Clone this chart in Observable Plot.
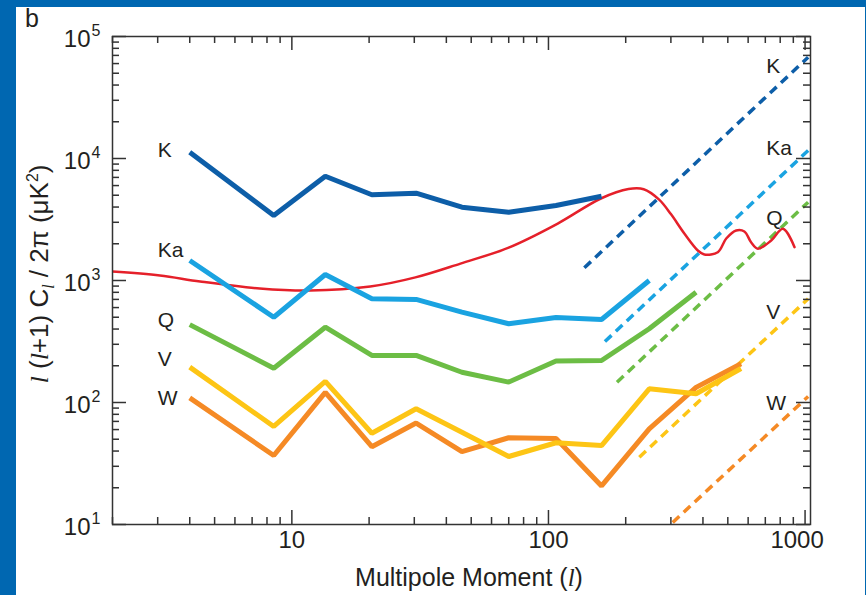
<!DOCTYPE html>
<html><head><meta charset="utf-8">
<script src="https://cdn.jsdelivr.net/npm/d3@7"></script>
<script src="https://cdn.jsdelivr.net/npm/@observablehq/plot@0.6"></script>
<style>
html,body{margin:0;padding:0;}
body{width:866px;height:595px;background:#0067b1;position:relative;overflow:hidden;font-family:"Liberation Sans",Arial,Helvetica,sans-serif;color:#231f20;}
#panel{position:absolute;left:16px;top:7px;width:849px;height:588px;background:#fff;}
#chart{position:absolute;left:0;top:0;}
.lbl{position:absolute;white-space:nowrap;}
.il{font-family:"Liberation Serif","Times New Roman",serif;font-style:italic;}
#letter{position:absolute;left:25px;top:6px;font-size:25px;line-height:25px;}
#xtitle{left:469px;top:565px;transform:translateX(-50%);font-size:25px;line-height:25px;}
#ytitle{left:39px;top:274px;transform:translate(-50%,-50%) rotate(-90deg);font-size:26px;line-height:26px;}
sub,sup{font-size:16px;line-height:0;}
</style></head><body>
<div id="panel"></div>
<div id="chart"></div>
<div id="letter">b</div>
<div id="xtitle" class="lbl">Multipole Moment (<span class="il">l</span>)</div>
<div id="ytitle" class="lbl"><span class="il">l</span> (<span class="il">l</span>+1) C<sub class="il">l</sub> / 2π (μK<sup>2</sup>)</div>
<script>
// Multipole bin centres
const ells = [4, 8.5, 13.5, 20.5, 30.5, 46, 70, 107, 161, 247, 376, 563];
// Foreground (band) spectra, μK²
const kBand  = [11270, 3410, 7160, 5040, 5200, 3990, 3630, 4120, 4910];
const kaBand = [1459, 500, 1120, 708, 700, 550, 442, 498, 479, 1000];
const qBand  = [435, 191, 414, 243, 243, 177, 147, 219, 221, 402, 802];
const vBand  = [195, 63.6, 149, 56, 88.8, 57, 36.1, 46.8, 44.4, 129.5, 118, 190];
const wBand  = [109, 36.8, 121, 43.4, 67.9, 39.6, 51.4, 50.7, 20.7, 60.8, 133, 208];
// CMB model spectrum
const cmbL = [2, 3.06, 4.39, 7.5, 11.8, 20.2, 30.3, 45.4, 70, 108.7, 160, 205, 235, 270, 300, 339, 382, 405, 457, 493, 539, 580, 617, 655, 738, 820, 910];
const cmbV = [1186, 1100, 982, 860, 828, 893, 1060, 1376, 1862, 2931, 4700, 5620, 5600, 4600, 3500, 2416, 1762, 1634, 1707, 2208, 2570, 2523, 2047, 1820, 2128, 2656, 1875];
// Noise levels (start / end)
const kNoiseL = [138, 1028],  kNoiseV = [1271, 67600];
const kaNoiseL = [166, 1028], kaNoiseV = [316, 11630];
const qNoiseL = [185, 1028],  qNoiseV = [146.6, 4385];
const vNoiseL = [226, 1028],  vNoiseV = [35.6, 708];
const wNoiseL = [305, 1028],  wNoiseV = [10.4, 112];
// Labels
const bandNames = ["K", "Ka", "Q", "V", "W"];
const leftLabelV = [11650, 1762, 470, 225, 108];
const rightLabelV = [56700, 12080, 3220, 547, 98];
const leftLabelL = 3, rightLabelL = 706;
// Ticks
const xMajor = [10, 100, 1000];
const xTickLabels = ["10", "100", "1000"];
const xMinor = [2,3,4,5,6,7,8,9,20,30,40,50,60,70,80,90,200,300,400,500,600,700,800,900];
const yMajor = [10, 100, 1000, 10000, 100000];
const yExp = ["1", "2", "3", "4", "5"];
const yMinor = [20,30,40,50,60,70,80,90,200,300,400,500,600,700,800,900,2000,3000,4000,5000,6000,7000,8000,9000,20000,30000,40000,50000,60000,70000,80000,90000];

const colors = {K:"#0d5ea8", Ka:"#1aa3e1", Q:"#6cbd45", V:"#fdc515", W:"#f58a25", cmb:"#e5202a"};

const band = (vals) => vals.map((v, i) => ({l: ells[i], v}));
const pairs = (L, V) => L.map((l, i) => ({l, v: V[i]}));

const W = 866, H = 595, mL = 112, mT = 36, mR = 56, mB = 71;
const innerW = W - mL - mR, innerH = H - mT - mB;
const tickColor = "#333";
const ink = "#231f20";

const solid = (data, c) => Plot.line(data, {x: "l", y: "v", stroke: c, strokeWidth: 5, strokeLinejoin: "miter", strokeLinecap: "butt"});
const dashed = (data, c) => Plot.line(data, {x: "l", y: "v", stroke: c, strokeWidth: 3.5, strokeDasharray: "9,6", strokeLinecap: "butt", clip: true});

const plot = Plot.plot({
  width: W, height: H, marginLeft: mL, marginTop: mT, marginRight: mR, marginBottom: mB,
  style: {background: "transparent", fontFamily: "'Liberation Sans', Arial, sans-serif", overflow: "visible"},
  x: {type: "log", domain: [2, 1050], axis: null},
  y: {type: "log", domain: [10, 100000], axis: null},
  marks: [
    dashed(pairs(kNoiseL, kNoiseV), colors.K),
    dashed(pairs(kaNoiseL, kaNoiseV), colors.Ka),
    dashed(pairs(qNoiseL, qNoiseV), colors.Q),
    dashed(pairs(vNoiseL, vNoiseV), colors.V),
    dashed(pairs(wNoiseL, wNoiseV), colors.W),
    Plot.line(pairs(cmbL, cmbV), {x: "l", y: "v", stroke: colors.cmb, strokeWidth: 2.5, curve: "catmull-rom", clip: true}),
    solid(band(kBand), colors.K),
    solid(band(kaBand), colors.Ka),
    solid(band(qBand), colors.Q),
    solid(band(wBand), colors.W),
    solid(band(vBand), colors.V),
    Plot.frame({stroke: tickColor, strokeWidth: 1.5}),
    // bottom / top ticks
    Plot.tickX(xMajor, {x: d => d, insetTop: innerH - 14, stroke: tickColor, strokeWidth: 1.5}),
    Plot.tickX(xMinor, {x: d => d, insetTop: innerH - 7, stroke: tickColor, strokeWidth: 1.5}),
    Plot.tickX(xMajor, {x: d => d, insetBottom: innerH - 14, stroke: tickColor, strokeWidth: 1.5}),
    Plot.tickX(xMinor, {x: d => d, insetBottom: innerH - 7, stroke: tickColor, strokeWidth: 1.5}),
    // left / right ticks
    Plot.tickY(yMajor, {y: d => d, insetRight: innerW - 14, stroke: tickColor, strokeWidth: 1.5}),
    Plot.tickY(yMinor, {y: d => d, insetRight: innerW - 7, stroke: tickColor, strokeWidth: 1.5}),
    Plot.tickY(yMajor, {y: d => d, insetLeft: innerW - 14, stroke: tickColor, strokeWidth: 1.5}),
    Plot.tickY(yMinor, {y: d => d, insetLeft: innerW - 7, stroke: tickColor, strokeWidth: 1.5}),
    // y tick labels 10^n
    Plot.text(yMajor, {y: d => d, frameAnchor: "left", text: () => "10", textAnchor: "end", dx: -22, dy: 3, fontSize: 24, fill: ink}),
    Plot.text(yMajor, {y: d => d, frameAnchor: "left", text: (d, i) => yExp[i], textAnchor: "start", dx: -21, dy: -6, fontSize: 16, fill: ink}),
    // x tick labels
    Plot.text(xMajor.slice(0, 2), {x: d => d, frameAnchor: "bottom", text: (d, i) => xTickLabels[i], dy: 23, fontSize: 24, fill: ink}),
    Plot.text(xMajor.slice(2), {x: d => d, frameAnchor: "bottom", text: (d, i) => xTickLabels[i + 2], dy: 23, dx: -8, fontSize: 24, fill: ink}),
    // band labels
    Plot.text(bandNames, {x: () => leftLabelL, y: (d, i) => leftLabelV[i], text: d => d, textAnchor: "start", fontSize: 21, fill: ink}),
    Plot.text(bandNames, {x: () => rightLabelL, y: (d, i) => rightLabelV[i], text: d => d, textAnchor: "start", fontSize: 21, fill: ink})
  ]
});
document.getElementById("chart").appendChild(plot);
</script>
</body></html>
